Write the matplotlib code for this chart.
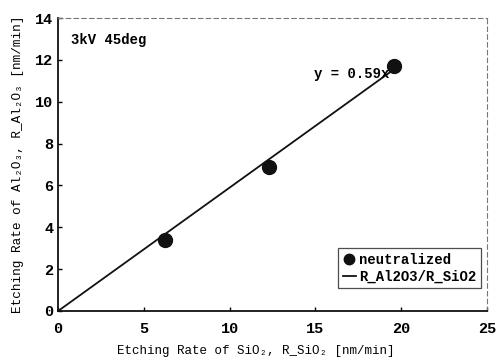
import numpy as np
import matplotlib
matplotlib.use("Agg")
import matplotlib.pyplot as plt

plt.rcParams['font.family'] = ['Liberation Mono', 'DejaVu Sans Mono']
plt.rcParams['font.weight'] = 'bold'

# measured points (neutralized beam)
r_sio2 = [6.2, 12.3, 19.6]
r_al2o3 = [3.4, 6.9, 11.7]
slope = 0.59
fit_x = [0, 19.6]

fig = plt.figure(figsize=(4.97, 3.62), dpi=100)
ax = fig.add_axes([0.117, 0.141, 0.863, 0.809])

ax.plot(r_sio2, r_al2o3, 'o', color='#111111', ms=10, label='neutralized', zorder=3)
ax.plot(fit_x, [slope * v for v in fit_x], '-', color='#111111', lw=1.3, label='R_Al2O3/R_SiO2')

ax.set_xlim(0, 25)
ax.set_ylim(0, 14)
ax.set_xticks([0, 5, 10, 15, 20, 25])
ax.set_yticks([0, 2, 4, 6, 8, 10, 12, 14])
ax.tick_params(direction='in', length=3, labelsize=11, width=1)
ax.tick_params(axis='x', pad=8)
for s in ['left', 'bottom']:
    ax.spines[s].set_linewidth(1.3)
    ax.spines[s].set_color('#111111')
for s in ['top', 'right']:
    ax.spines[s].set_linewidth(0.8)
    ax.spines[s].set_color('#777777')
    ax.spines[s].set_linestyle((0, (4, 3)))

ax.set_xlabel('Etching Rate of SiO₂, R_SiO₂ [nm/min]', fontsize=9, labelpad=5)
ax.xaxis.set_label_coords(0.46, -0.115)
ax.set_ylabel('Etching Rate of Al₂O₃, R_Al₂O₃ [nm/min]', fontsize=9.2, labelpad=8)

ax.text(0.03, 0.95, '3kV 45deg', transform=ax.transAxes, fontsize=10, va='top')
ax.text(14.9, 11.35, 'y = 0.59x', fontsize=10, va='center')

leg = ax.legend(loc='lower right', bbox_to_anchor=(0.985, 0.08), fontsize=10,
                frameon=True, fancybox=False, handlelength=1.0, handletextpad=0.2,
                borderpad=0.3, labelspacing=0.2, borderaxespad=0, markerscale=0.75)
leg.get_frame().set_edgecolor('#222222')
leg.get_frame().set_linewidth(0.9)

fig.savefig('out.png', dpi=100)
